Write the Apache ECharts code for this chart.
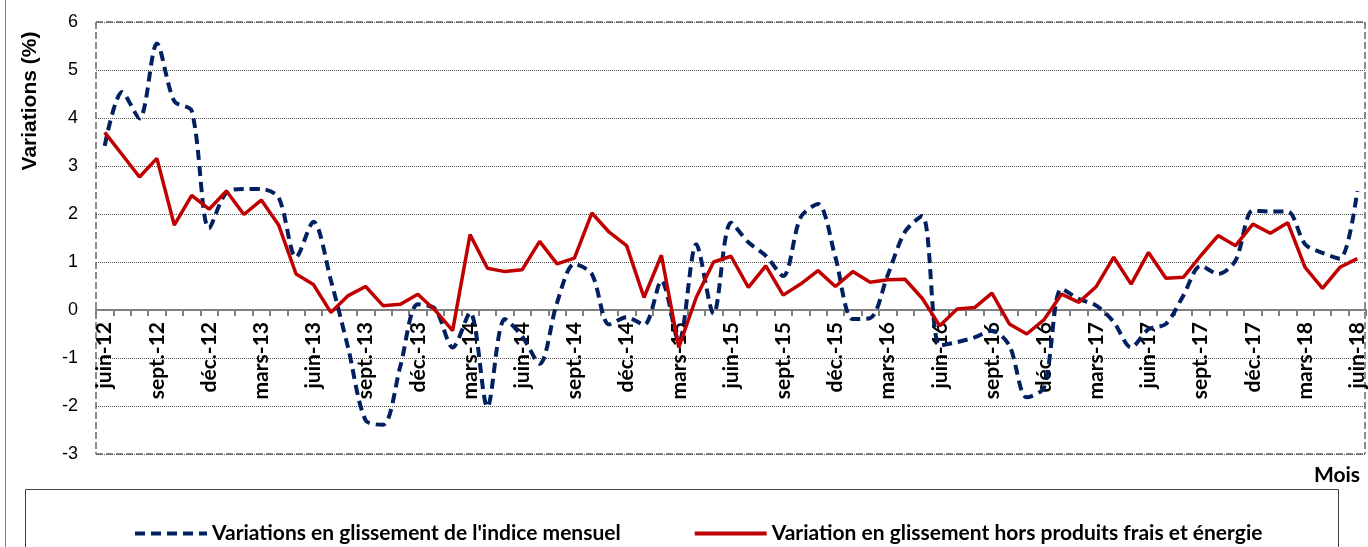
<!DOCTYPE html>
<html>
<head>
<meta charset="utf-8">
<script src="https://cdn.jsdelivr.net/npm/echarts@6/dist/echarts.min.js"></script>
<style>
html,body{margin:0;padding:0;background:#fff;}
#chart{width:1368px;height:547px;}
</style>
</head>
<body>
<div id="chart"></div>
<script>
var categories = [
 "juin-12","juil.-12","août-12","sept.-12","oct.-12","nov.-12","déc.-12",
 "janv.-13","févr.-13","mars-13","avr.-13","mai-13","juin-13","juil.-13","août-13","sept.-13","oct.-13","nov.-13","déc.-13",
 "janv.-14","févr.-14","mars-14","avr.-14","mai-14","juin-14","juil.-14","août-14","sept.-14","oct.-14","nov.-14","déc.-14",
 "janv.-15","févr.-15","mars-15","avr.-15","mai-15","juin-15","juil.-15","août-15","sept.-15","oct.-15","nov.-15","déc.-15",
 "janv.-16","févr.-16","mars-16","avr.-16","mai-16","juin-16","juil.-16","août-16","sept.-16","oct.-16","nov.-16","déc.-16",
 "janv.-17","févr.-17","mars-17","avr.-17","mai-17","juin-17","juil.-17","août-17","sept.-17","oct.-17","nov.-17","déc.-17",
 "janv.-18","févr.-18","mars-18","avr.-18","mai-18","juin-18"
];
var indiceMensuel = [
 3.42,4.54,3.99,5.55,4.35,4.15,1.70,
 2.45,2.52,2.52,2.34,1.10,1.84,0.62,-0.80,-2.30,-2.39,-1.16,0.12,
 0.02,-0.78,-0.05,-2.02,-0.19,-0.55,-1.12,0.15,0.96,0.75,-0.30,-0.15,
 -0.31,0.61,-0.66,1.37,-0.08,1.82,1.41,1.13,0.71,1.93,2.21,1.10,
 -0.19,-0.17,0.72,1.63,1.96,-0.74,-0.67,-0.57,-0.43,-0.74,-1.82,-1.61,
 0.44,0.23,0.09,-0.25,-0.78,-0.40,-0.29,0.30,0.92,0.75,1.03,2.07,
 2.05,2.05,1.37,1.19,1.07,2.48
];
var horsFraisEnergie = [
 3.70,3.24,2.77,3.16,1.77,2.39,2.10,
 2.48,1.99,2.29,1.77,0.75,0.53,-0.05,0.30,0.49,0.09,0.12,0.33,
 -0.01,-0.43,1.57,0.87,0.80,0.84,1.43,0.96,1.08,2.02,1.62,1.34,
 0.26,1.14,-0.78,0.26,1.00,1.12,0.47,0.92,0.31,0.54,0.82,0.49,
 0.80,0.58,0.63,0.64,0.24,-0.33,0.02,0.05,0.35,-0.29,-0.50,-0.20,
 0.33,0.16,0.49,1.10,0.54,1.20,0.66,0.68,1.13,1.55,1.34,1.79,
 1.60,1.82,0.89,0.45,0.89,1.07
];
var seriesNames = ["Variations en glissement de l'indice mensuel","Variation en glissement hors produits frais et énergie"];
var yTitle = "Variations (%)";
var xTitle = "Mois";
var yMin = -3, yMax = 6;

var G = {left:96, right:2, top:22, bottom:93};
var W = 1368, H = 547;
var gx1 = G.left, gx2 = W - G.right, gy1 = G.top, gy2 = H - G.bottom;
var zeroY = gy1 + (yMax - 0) / (yMax - yMin) * (gy2 - gy1);
var dash = {stroke:'#8c8c8c', lineWidth:2, lineDash:[7,3]};

var chart = echarts.init(document.getElementById('chart'), null, {renderer:'canvas'});
chart.setOption({
  animation:false,
  backgroundColor:'#ffffff',
  grid:{left:G.left, right:G.right, top:G.top, bottom:G.bottom, containLabel:false},
  legend:{
    show:true, orient:'horizontal', left:128, top:518, width:1220,
    itemWidth:72, itemHeight:14, itemGap:72,
    itemStyle:{opacity:0},
    lineStyle:{width:4},
    textStyle:{fontFamily:'Lato', fontWeight:'bold', fontSize:21, color:'#000'},
    data:seriesNames
  },
  xAxis:{type:'category', data:categories, boundaryGap:true,
     offset: -(gy2 - zeroY),
     axisLine:{onZero:false, lineStyle:{color:'#808080', width:2}},
     axisTick:{show:true, interval:0, length:6, lineStyle:{color:'#808080', width:2}},
     axisLabel:{interval:2, rotate:90, margin:12, fontFamily:'Lato', fontWeight:'bold', fontSize:21, color:'#000'},
     splitLine:{show:false}},
  yAxis:{type:'value', min:yMin, max:yMax, interval:1,
     axisLine:{show:false},
     axisTick:{show:false},
     axisLabel:{margin:18, fontFamily:'Liberation Sans', fontSize:18, color:'#000'},
     splitLine:{show:true, lineStyle:{color:'#555', width:1, type:[1,1]}}},
  series:[
    {name:seriesNames[0], type:'line', data:indiceMensuel, symbol:'none', smooth:0.3,
     lineStyle:{color:'#002060', width:4, type:[10,6]}, itemStyle:{color:'#002060'}, z:3},
    {name:seriesNames[1], type:'line', data:horsFraisEnergie, symbol:'none',
     lineStyle:{color:'#C00000', width:3.5}, itemStyle:{color:'#C00000'}, z:4}
  ],
  graphic:[
    {type:'line', shape:{x1:5.5,y1:0,x2:5.5,y2:H}, style:{stroke:'#7f7f7f', lineWidth:1}, silent:true},
    {type:'line', shape:{x1:gx1,y1:gy1,x2:gx2,y2:gy1}, style:dash, silent:true},
    {type:'line', shape:{x1:gx1,y1:gy2,x2:gx2,y2:gy2}, style:dash, silent:true},
    {type:'line', shape:{x1:gx1,y1:gy1,x2:gx1,y2:gy2}, style:dash, silent:true},
    {type:'line', shape:{x1:gx2-1,y1:gy1,x2:gx2-1,y2:gy2}, style:dash, silent:true},
    {type:'rect', shape:{x:25.5,y:489.5,width:1313,height:80}, style:{fill:'none', stroke:'#404040', lineWidth:1}, silent:true, z:-1},
    {type:'text', x:30, y:101, rotation:Math.PI/2, style:{text:yTitle, fontFamily:'Liberation Sans', fontWeight:'bold', fontSize:21, fill:'#000', align:'center', verticalAlign:'middle'}},
    {type:'text', x:1337, y:475, style:{text:xTitle, fontFamily:'Lato', fontWeight:'bold', fontSize:21, fill:'#000', align:'center', verticalAlign:'middle'}}
  ]
});
</script>
</body>
</html>
